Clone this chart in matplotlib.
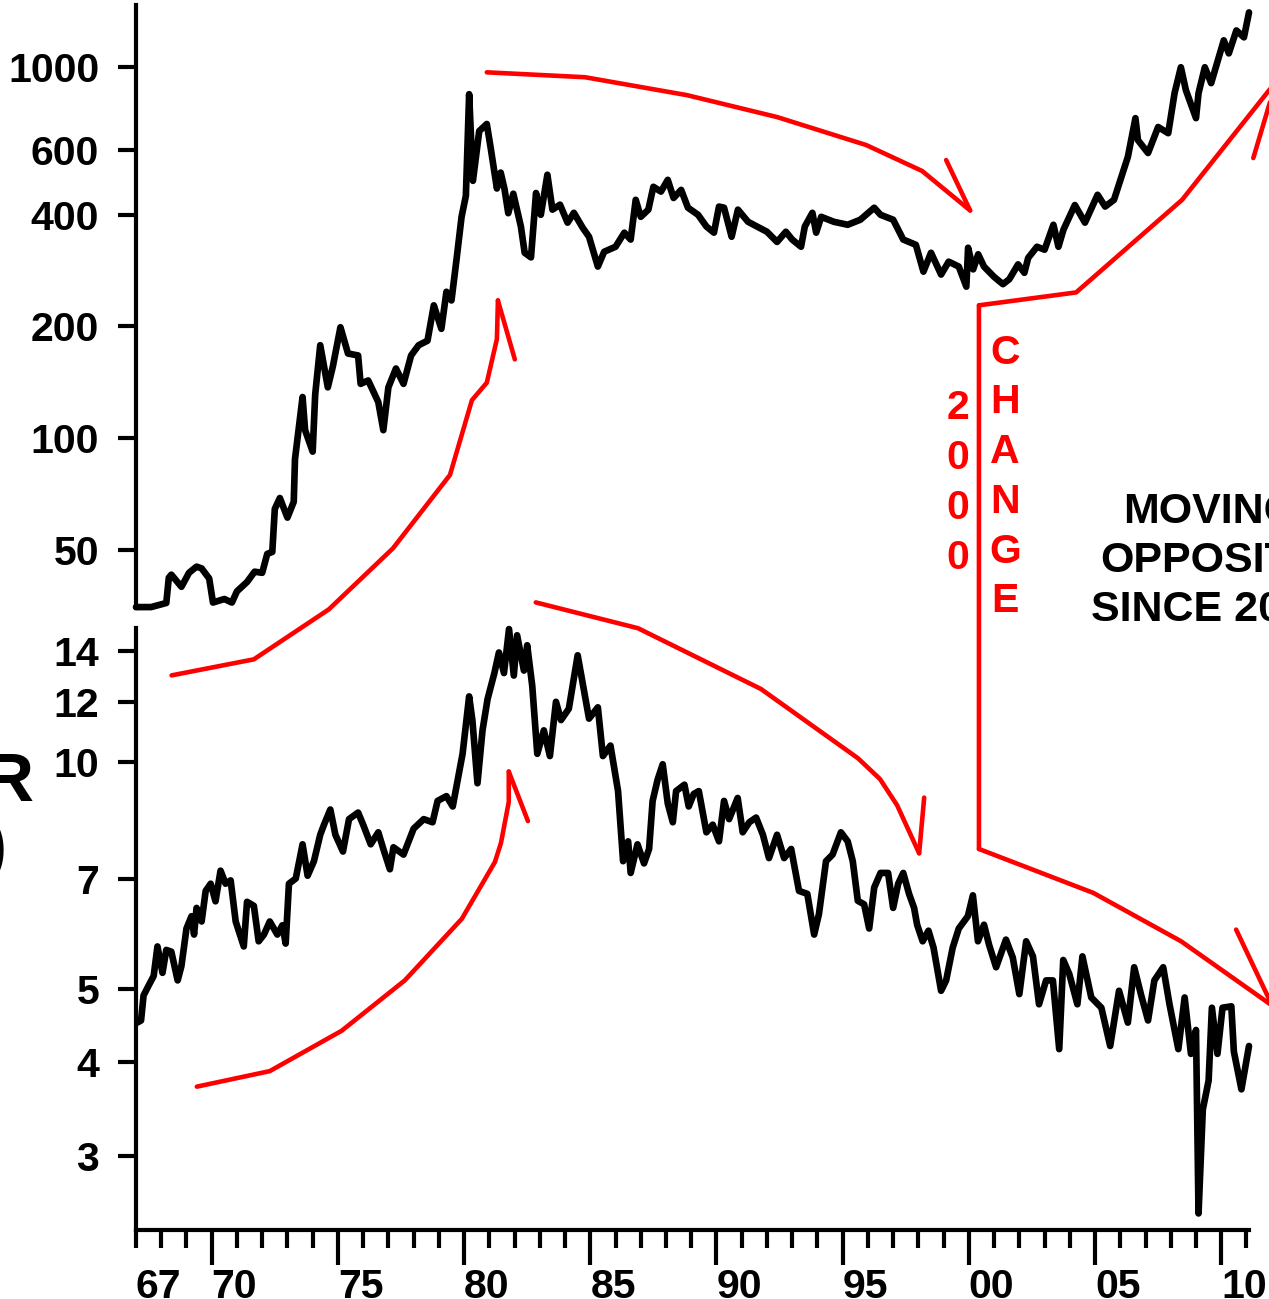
import matplotlib
matplotlib.use('Agg')
import matplotlib.pyplot as plt
from matplotlib.patches import ConnectionPatch
from matplotlib.ticker import FixedLocator, FixedFormatter, NullLocator

W, H, DPI = 1269, 1299, 100

# ---------------- data ----------------
gold_years = [1967.0, 1967.6, 1968.2, 1968.3, 1968.4, 1968.8, 1969.1, 1969.4, 1969.6, 1969.9,
              1970.05, 1970.5, 1970.8, 1971.0, 1971.4, 1971.7, 1972.0, 1972.2, 1972.4, 1972.5,
              1972.7, 1973.0, 1973.25, 1973.3, 1973.6, 1973.7, 1974.0, 1974.1, 1974.3, 1974.6,
              1974.8, 1975.1, 1975.4, 1975.8, 1975.9, 1976.2, 1976.6, 1976.8, 1977.0, 1977.3,
              1977.6, 1977.9, 1978.2, 1978.55, 1978.8, 1979.1, 1979.3, 1979.5, 1979.7, 1979.9,
              1980.07, 1980.2, 1980.35, 1980.6, 1980.9, 1981.06, 1981.3, 1981.45, 1981.6, 1981.75,
              1981.95, 1982.25, 1982.4, 1982.65, 1982.85, 1983.04, 1983.3, 1983.5, 1983.8, 1984.1,
              1984.35, 1984.7, 1984.95, 1985.3, 1985.55, 1986.0, 1986.35, 1986.6, 1986.8, 1987.0,
              1987.3, 1987.5, 1987.8, 1988.07, 1988.3, 1988.6, 1988.87, 1989.27, 1989.6, 1989.9,
              1990.1, 1990.3, 1990.6, 1990.85, 1991.25, 1991.6, 1992.0, 1992.4, 1992.75, 1993.0,
              1993.35, 1993.5, 1993.8, 1993.95, 1994.15, 1994.65, 1995.2, 1995.7, 1996.25, 1996.5,
              1997.0, 1997.4, 1997.9, 1998.2, 1998.5, 1998.9, 1999.2, 1999.6, 1999.9, 1999.97,
              2000.17, 2000.37, 2000.6, 2001.0, 2001.35, 2001.6, 2001.95, 2002.2, 2002.35, 2002.7,
              2003.0, 2003.35, 2003.55, 2003.75, 2004.2, 2004.6, 2005.1, 2005.4, 2005.75, 2006.3,
              2006.6, 2006.7, 2007.1, 2007.5, 2007.9, 2008.15, 2008.4, 2008.6, 2009.0, 2009.1,
              2009.35, 2009.6, 2010.1, 2010.3, 2010.6, 2010.9, 2011.1]
gold_values = [35.0, 35.0, 35.9, 42.0, 42.8, 39.7, 43.3, 45.0, 44.5, 41.8,
               36.0, 36.8, 36.0, 38.6, 40.9, 43.6, 43.3, 48.7, 49.3, 64.4,
               68.9, 61.0, 67.3, 87.8, 129, 105, 91.9, 131, 178, 137,
               156, 199, 169, 167, 140, 143, 125, 105, 137, 154,
               140, 167, 178, 183, 228, 197, 248, 235, 303, 395,
               450, 846, 494, 673, 703, 602, 471, 520, 470, 404,
               456, 372, 316, 307, 458, 400, 513, 413, 426, 381,
               405, 369, 349, 290, 318, 328, 358, 343, 439, 395,
               413, 476, 462, 497, 444, 467, 418, 400, 372, 358,
               421, 418, 349, 413, 383, 372, 360, 338, 360, 343,
               328, 372, 405, 358, 395, 383, 376, 388, 418, 400,
               388, 343, 332, 281, 316, 276, 299, 290, 256, 326,
               285, 313, 290, 272, 260, 268, 294, 279, 306, 328,
               322, 376, 328, 365, 425, 381, 453, 421, 439, 573,
               729, 636, 587, 690, 664, 851, 1000, 867, 729, 851,
               1000, 906, 1182, 1090, 1257, 1204, 1406]

yield_years = [1967.05, 1967.2, 1967.3, 1967.5, 1967.7, 1967.85, 1968.05, 1968.2, 1968.4, 1968.65,
               1968.8, 1969.0, 1969.2, 1969.3, 1969.4, 1969.6, 1969.76, 1969.96, 1970.15, 1970.35,
               1970.55, 1970.75, 1970.95, 1971.27, 1971.4, 1971.67, 1971.86, 1972.07, 1972.3, 1972.6,
               1972.8, 1972.93, 1973.06, 1973.33, 1973.6, 1973.8, 1974.05, 1974.3, 1974.45, 1974.7,
               1974.9, 1975.2, 1975.44, 1975.8, 1976.0, 1976.3, 1976.6, 1976.8, 1977.06, 1977.2,
               1977.6, 1978.0, 1978.4, 1978.75, 1978.95, 1979.3, 1979.55, 1979.8, 1979.94, 1980.2,
               1980.33, 1980.53, 1980.73, 1980.93, 1981.2, 1981.38, 1981.58, 1981.78, 1981.97, 1982.1,
               1982.37, 1982.5, 1982.7, 1982.9, 1983.16, 1983.4, 1983.64, 1983.84, 1984.15, 1984.5,
               1984.7, 1984.95, 1985.3, 1985.5, 1985.8, 1986.1, 1986.3, 1986.5, 1986.6, 1986.87,
               1987.13, 1987.33, 1987.47, 1987.67, 1987.87, 1988.07, 1988.27, 1988.4, 1988.73, 1988.9,
               1989.1, 1989.3, 1989.6, 1989.85, 1990.1, 1990.3, 1990.5, 1990.84, 1991.04, 1991.3,
               1991.57, 1991.84, 1992.08, 1992.4, 1992.68, 1992.96, 1993.27, 1993.6, 1993.87, 1994.06,
               1994.34, 1994.6, 1994.93, 1995.2, 1995.4, 1995.6, 1995.85, 1996.05, 1996.25, 1996.5,
               1996.8, 1997.0, 1997.2, 1997.4, 1997.63, 1997.83, 1997.95, 1998.17, 1998.4, 1998.6,
               1998.9, 1999.1, 1999.36, 1999.6, 1999.96, 2000.16, 2000.36, 2000.6, 2000.8, 2001.08,
               2001.47, 2001.74, 2002.0, 2002.27, 2002.54, 2002.78, 2003.06, 2003.33, 2003.58, 2003.74,
               2003.98, 2004.3, 2004.5, 2004.85, 2005.25, 2005.6, 2005.95, 2006.3, 2006.55, 2006.83,
               2007.1, 2007.35, 2007.7, 2007.95, 2008.3, 2008.55, 2008.8, 2009.0, 2009.1, 2009.27,
               2009.5, 2009.63, 2009.85, 2010.05, 2010.4, 2010.5, 2010.8, 2011.1]
yield_values = [4.51, 4.54, 4.9, 5.05, 5.2, 5.69, 5.25, 5.63, 5.6, 5.13,
                5.36, 6.01, 6.24, 5.9, 6.4, 6.14, 6.74, 6.89, 6.53, 7.17,
                6.89, 6.96, 6.14, 5.69, 6.52, 6.44, 5.78, 5.9, 6.14, 5.9,
                6.07, 5.74, 6.89, 7.0, 7.77, 7.06, 7.38, 8.0, 8.25, 8.64,
                8.0, 7.6, 8.39, 8.56, 8.25, 7.77, 8.06, 7.66, 7.2, 7.7,
                7.53, 8.15, 8.39, 8.31, 8.87, 9.0, 8.72, 9.66, 10.24, 12.2,
                11.33, 9.36, 11.0, 12.1, 13.1, 13.95, 13.1, 14.98, 13.0, 14.7,
                13.2, 14.26, 12.6, 10.24, 11.0, 10.17, 12.0, 11.35, 11.75, 13.83,
                12.7, 11.4, 11.8, 10.17, 10.5, 9.14, 7.38, 7.84, 7.12, 7.77,
                7.33, 7.66, 8.87, 9.47, 9.92, 8.8, 8.31, 9.14, 9.32, 8.72,
                9.06, 9.14, 8.06, 8.25, 7.84, 8.87, 8.39, 8.95, 8.06, 8.31,
                8.43, 8.0, 7.45, 8.0, 7.45, 7.66, 6.74, 6.68, 5.9, 6.28,
                7.38, 7.53, 8.06, 7.84, 7.38, 6.54, 6.47, 6.01, 6.81, 7.12,
                7.12, 6.4, 6.89, 7.12, 6.68, 6.4, 6.08, 5.78, 5.97, 5.67,
                4.97, 5.13, 5.67, 6.01, 6.24, 6.65, 5.78, 6.08, 5.72, 5.34,
                5.81, 5.5, 4.92, 5.78, 5.52, 4.77, 5.13, 5.13, 4.16, 5.46,
                5.23, 4.77, 5.52, 4.87, 4.72, 4.2, 4.97, 4.51, 5.34, 4.9,
                4.54, 5.13, 5.34, 4.77, 4.16, 4.87, 4.1, 4.41, 2.52, 3.46,
                3.78, 4.72, 4.1, 4.72, 4.74, 4.13, 3.68, 4.2]

gold_ticks = [50, 100, 200, 400, 600, 1000]
yield_ticks = [3, 4, 5, 7, 10, 12, 14]
year_major = [1970, 1975, 1980, 1985, 1990, 1995, 2000, 2005, 2010]
year_major_labels = ['70', '75', '80', '85', '90', '95', '00', '05', '10']
year_minor = [1967, 1968, 1969, 1971, 1972, 1973, 1974, 1976, 1977, 1978, 1979, 1981, 1982,
              1983, 1984, 1986, 1987, 1988, 1989, 1991, 1992, 1993, 1994, 1996, 1997, 1998,
              1999, 2001, 2002, 2003, 2004, 2006, 2007, 2008, 2009, 2011]

# hand-drawn red annotation paths (year, value on the panel's scale)
gold_fall_x = [1980.90, 1984.79, 1988.83, 1992.40, 1995.93, 1998.15, 2000.05]
gold_fall_y = [969, 940, 841, 734, 617, 525, 411]
gold_fall_barb_x = [1999.10, 2000.05]
gold_fall_barb_y = [562, 411]

gold_rise_x = [1968.41, 1971.67, 1974.64, 1977.18, 1979.44, 1980.31, 1980.90, 1981.30, 1981.34]
gold_rise_y = [22.9, 25.3, 34.5, 50.4, 79.5, 126.5, 141, 185, 235]
gold_rise_barb_x = [1981.34, 1982.01]
gold_rise_barb_y = [235, 163]

gold_new_x = [2000.40, 2004.25, 2008.45, 2012.18]
gold_new_y = [228, 247, 439, 917]
gold_new_barb_x = [2011.27, 2012.18]
gold_new_barb_y = [569, 917]

yld_rise_x = [1969.41, 1972.30, 1975.15, 1977.65, 1979.91, 1981.22, 1981.46, 1981.77, 1981.77]
yld_rise_y = [3.71, 3.89, 4.40, 5.13, 6.19, 7.36, 7.80, 8.84, 9.70]
yld_rise_barb_x = [1981.77, 1982.53]
yld_rise_barb_y = [9.70, 8.34]

yld_fall_x = [1982.84, 1986.89, 1991.76, 1995.61, 1996.48, 1997.16, 1998.03]
yld_fall_y = [16.25, 15.02, 12.48, 10.10, 9.48, 8.75, 7.56]
yld_fall_barb_x = [1998.23, 1998.03]
yld_fall_barb_y = [8.96, 7.56]

yld_new_x = [2000.40, 2004.93, 2008.41, 2012.02]
yld_new_y = [7.66, 6.70, 5.78, 4.75]
yld_new_barb_x = [2010.59, 2012.02]
yld_new_barb_y = [5.99, 4.75]

# ---------------- drawing ----------------
plt.rcParams['font.family'] = ['Liberation Sans', 'DejaVu Sans']
plt.rcParams['font.weight'] = 'bold'
plt.rcParams['axes.linewidth'] = 3

fig = plt.figure(figsize=(W / DPI, H / DPI), dpi=DPI)
fig.patch.set_facecolor('white')


def fx(px):
    return px / W


def fy(py):
    return 1 - py / H


AX_L, AX_R = 136, 1249
ax1 = fig.add_axes([fx(AX_L), fy(608), fx(AX_R) - fx(AX_L), fy(5) - fy(608)])
ax2 = fig.add_axes([fx(AX_L), fy(1230), fx(AX_R) - fx(AX_L), fy(628) - fy(1230)])

XLIM = (1967.0, 2011.1)
BLACK_LW = 4.8
RED_LW = 3.3
RED = '#ff0000'

for ax in (ax1, ax2):
    ax.set_xlim(*XLIM)
    ax.set_yscale('log')
    ax.set_facecolor('none')
    for s in ('top', 'right'):
        ax.spines[s].set_visible(False)
    ax.yaxis.set_minor_locator(NullLocator())
    ax.tick_params(axis='y', which='major', length=13, width=3, pad=13.5,
                   labelsize=29.5, direction='out')

ax1.spines['bottom'].set_visible(False)
ax1.tick_params(axis='x', which='both', bottom=False, labelbottom=False)
ax1.set_ylim(34.8, 1472)
ax1.yaxis.set_major_locator(FixedLocator(gold_ticks))
ax1.yaxis.set_major_formatter(FixedFormatter([str(v) for v in gold_ticks]))

ax2.set_ylim(2.396, 15.03)
ax2.yaxis.set_major_locator(FixedLocator(yield_ticks))
ax2.yaxis.set_major_formatter(FixedFormatter([str(v) for v in yield_ticks]))

ax2.set_xticks(year_major)
ax2.set_xticklabels(year_major_labels)
ax2.set_xticks(year_minor, minor=True)
ax2.set_xticklabels(['67' if y == 1967 else '' for y in year_minor], minor=True)
ax2.tick_params(axis='x', which='major', length=25.5, width=3, pad=1.5, labelsize=29.5)
ax2.tick_params(axis='x', which='minor', length=13, width=3, pad=14, labelsize=29.5)
for lbl in ax2.get_xticklabels(which='both'):
    lbl.set_horizontalalignment('left')
    lbl.set_fontweight('bold')
for lbl in ax1.get_yticklabels() + ax2.get_yticklabels():
    lbl.set_fontweight('bold')

ax1.plot(gold_years, gold_values, color='black', lw=BLACK_LW, clip_on=False,
         solid_joinstyle='round', solid_capstyle='round', zorder=3)
ax2.plot(yield_years, yield_values, color='black', lw=BLACK_LW, clip_on=False,
         solid_joinstyle='round', solid_capstyle='round', zorder=3)


def red(ax, xs, ys):
    ax.plot(xs, ys, color=RED, lw=RED_LW, clip_on=False,
            solid_capstyle='round', solid_joinstyle='round', zorder=4)


red(ax1, gold_fall_x, gold_fall_y)
red(ax1, gold_fall_barb_x, gold_fall_barb_y)
red(ax1, gold_rise_x, gold_rise_y)
red(ax1, gold_rise_barb_x, gold_rise_barb_y)
red(ax1, gold_new_x, gold_new_y)
red(ax1, gold_new_barb_x, gold_new_barb_y)
red(ax2, yld_rise_x, yld_rise_y)
red(ax2, yld_rise_barb_x, yld_rise_barb_y)
red(ax2, yld_fall_x, yld_fall_y)
red(ax2, yld_fall_barb_x, yld_fall_barb_y)
red(ax2, yld_new_x, yld_new_y)
red(ax2, yld_new_barb_x, yld_new_barb_y)

con = ConnectionPatch(xyA=(gold_new_x[0], gold_new_y[0]), coordsA=ax1.transData,
                      xyB=(yld_new_x[0], yld_new_y[0]), coordsB=ax2.transData,
                      color=RED, lw=RED_LW, capstyle='round', zorder=4)
fig.add_artist(con)

# ---------------- texts ----------------
fig.text(fx(958), fy(483), '2\n0\n0\n0', color=RED, fontsize=29.5, fontweight='bold',
         ha='center', va='center', multialignment='center', linespacing=1.39)
fig.text(fx(1005), fy(477), 'C\nH\nA\nN\nG\nE', color=RED, fontsize=29.5, fontweight='bold',
         ha='center', va='center', multialignment='center', linespacing=1.39)
fig.text(fx(1210), fy(561), 'MOVING\nOPPOSITE\nSINCE 2000', color='black', fontsize=31,
         fontweight='bold', ha='center', va='center', multialignment='center',
         linespacing=1.28)
fig.text(fx(35), fy(802), '10-YR', color='black', fontsize=50, fontweight='bold',
         ha='right', va='baseline')
fig.text(fx(8), fy(850), '(%)', color='black', fontsize=50, fontweight='bold',
         ha='right', va='center')

fig.savefig('out.png', dpi=DPI, facecolor='white')
